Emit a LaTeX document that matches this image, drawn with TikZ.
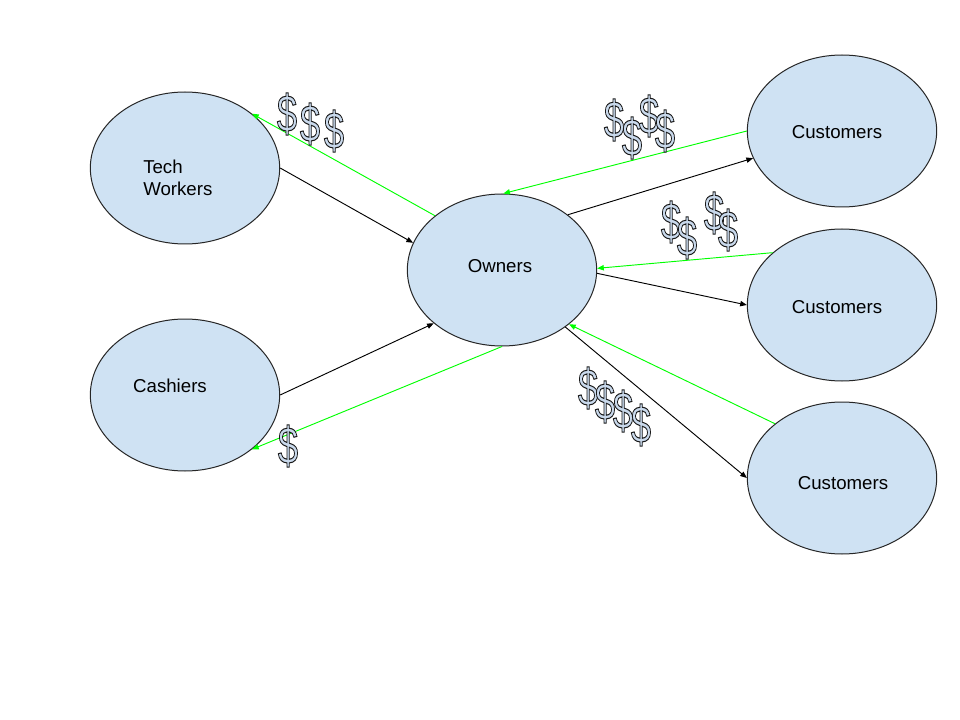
\documentclass[tikz,border=0pt]{standalone}
\usepackage{fontspec}
\usepackage{graphicx}
\setmainfont{Liberation Sans}
\usetikzlibrary{shapes.geometric,arrows.meta}

\definecolor{bubble}{HTML}{CFE2F3}
\definecolor{cash}{HTML}{C9D9EC}
\definecolor{paid}{HTML}{00FF00}

\tikzset{
  party/.style={ellipse, draw=black!85, line width=0.75pt, fill=bubble,
    minimum width=142pt, minimum height=114pt, inner sep=0pt},
  tag/.style={inner sep=0pt, font=\fontsize{14}{16.5}\selectfont},
  flow/.style={draw=black, line width=0.7pt, -{Triangle[length=5pt,width=4pt]}},
  pay/.style={draw=paid, line width=0.7pt, -{Triangle[length=5pt,width=4pt]}},
  dollarglyph/.style={inner sep=0pt, text=cash, font=\fontsize{39}{39}\selectfont},
}

% an outlined dollar sign: glyph filled light and stroked in black
\newcommand\moneymark[2]{%
  \node[dollarglyph] (#1) at (#2)
    {\special{pdf:literal q 2 Tr 0.8 w 0.1 0.1 0.1 RG}\scalebox{0.7}[1]{\$}\special{pdf:literal Q}};
}

\begin{document}
\begin{tikzpicture}[x=0.75pt, y=-0.75pt]
  \useasboundingbox (0,0) rectangle (960,720);

  % parties
  \node[party] (tech)  at (185,168) {};
  \node[party] (cash)  at (185,395) {};
  \node[party] (own)   at (502,270) {};
  \node[party] (custA) at (842,131) {};
  \node[party] (custB) at (842,305) {};
  \node[party] (custC) at (842,478) {};

  % labels
  \node[tag, align=left, anchor=west] (techL) at (143,177.5) {Tech\\Workers};
  \node[tag] (cashL)  at (170,386) {Cashiers};
  \node[tag] (ownL)   at (500,266) {Owners};
  \node[tag] (custAL) at (837,132) {Customers};
  \node[tag] (custBL) at (837,307) {Customers};
  \node[tag] (custCL) at (843,483) {Customers};

  % labour and goods
  \draw[flow] (tech.0)   -- (own.163);
  \draw[flow] (cash.0)   -- (own.-142);
  \draw[flow] (own.40)   -- (custA.197.5);
  \draw[flow] (own.-2)   -- (custB.180);
  \draw[flow] (own.-42)  -- (custC.180);

  % money
  \draw[pay] (own.141)   -- (tech.39);
  \draw[pay] (own.-90)   -- (cash.-39);
  \draw[pay] (custA.180) -- (own.89);
  \draw[pay] (custB.143) -- (own.1);
  \draw[pay] (custC.141) -- (own.-39);

  % dollar signs
  \moneymark{dA}{287,114}
  \moneymark{dB}{310,124}
  \moneymark{dC}{334,131}

  \moneymark{dD}{614,120}
  \moneymark{dE}{632,138}
  \moneymark{dF}{649,116}
  \moneymark{dG}{665,131}

  \moneymark{dH}{671,222}
  \moneymark{dI}{687,238}
  \moneymark{dJ}{714,213}
  \moneymark{dK}{728,230}

  \moneymark{dL}{588,388}
  \moneymark{dM}{605,402}
  \moneymark{dN}{623,411}
  \moneymark{dO}{641,425}

  \moneymark{dP}{288,446}
\end{tikzpicture}
\end{document}
